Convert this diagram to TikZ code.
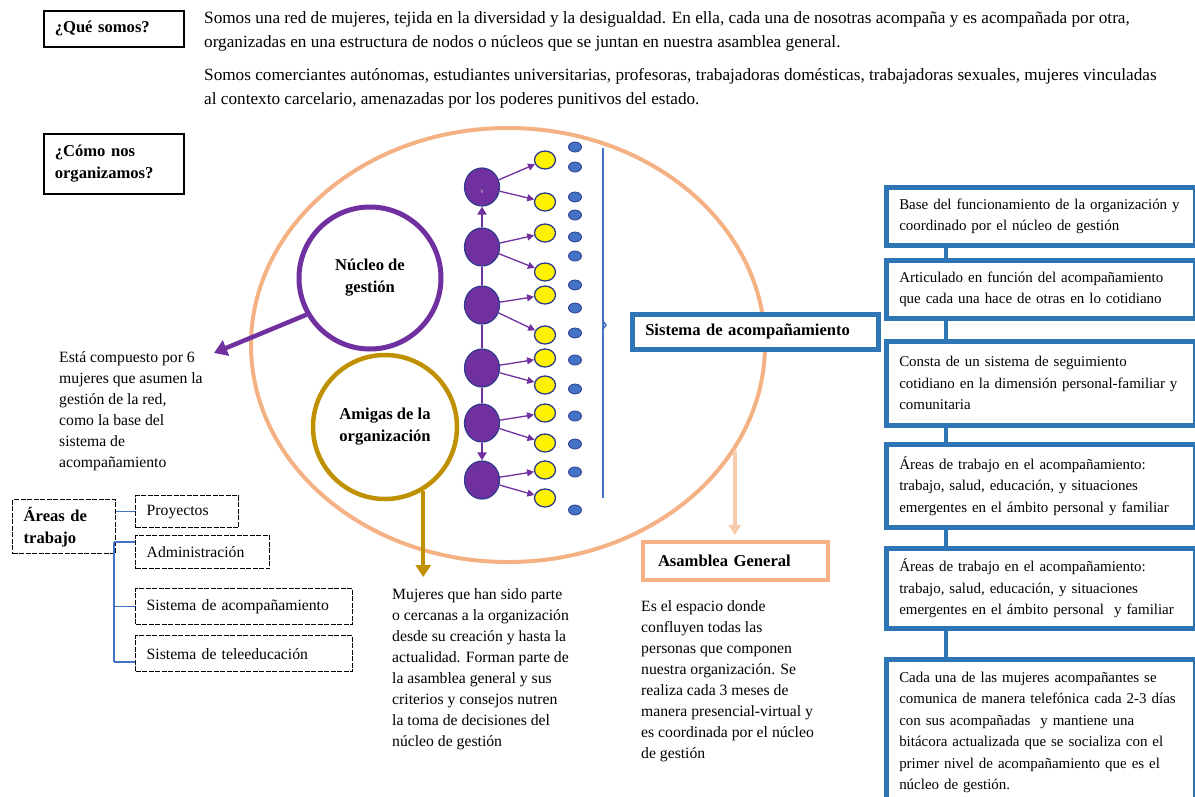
\documentclass[tikz,border=0pt]{standalone}
\usepackage{fontspec}
\setmainfont{Liberation Serif}
\usetikzlibrary{arrows.meta,shapes.geometric,calc}
\definecolor{peach}{HTML}{F4B183}
\definecolor{peachlt}{HTML}{F8CBAD}
\definecolor{purp}{HTML}{7030A0}
\definecolor{goldc}{HTML}{BF9000}
\definecolor{boxblue}{HTML}{2E75B6}
\definecolor{lineblue}{HTML}{4472C4}
\definecolor{rimblue}{HTML}{2F3C8C}
\definecolor{dotblue}{HTML}{4472C4}
\newcommand\txtTop{\fontsize{17.2}{24.5}\selectfont}
\newcommand\txtBody{\fontsize{15.7}{21.1}\selectfont}
\newcommand\txtBox{\fontsize{14.95}{21.5}\selectfont}
\newcommand\txtBold{\fontsize{16.6}{22}\selectfont\bfseries}
\tikzset{
  freetext/.style={anchor=north west, inner sep=0pt, align=left, font=\txtBody},
  headbox/.style={draw=black, line width=1.6pt, anchor=north west, inner xsep=11pt, inner ysep=0pt, text width=118pt, align=left, font=\txtBold},
  dashbox/.style={draw=black, line width=1.4pt, dash pattern=on 5pt off 1.5pt, anchor=north west, inner xsep=11pt, inner ysep=0pt, align=left, font=\txtBody},
  rbox/.style={draw=boxblue, line width=4.5pt, fill=white, anchor=north west, inner xsep=13pt, inner ysep=0pt, text width=283pt, align=left, font=\txtBox},
  pcirc/.style={ellipse, fill=purp, draw=rimblue, line width=1.2pt, minimum width=35pt, minimum height=38pt, inner sep=0pt},
  ycirc/.style={ellipse, fill=yellow, draw=rimblue, line width=1.3pt, minimum width=21pt, minimum height=18pt, inner sep=0pt},
  bdot/.style={ellipse, fill=dotblue, draw=rimblue, line width=0.8pt, minimum width=13pt, minimum height=10pt, inner sep=0pt},
  parrow/.style={draw=purp, line width=1.3pt, -{Triangle[length=7pt,width=7pt]}},
  chain/.style={draw=purp, line width=2.4pt},
  bus/.style={draw=lineblue, line width=1.3pt},
  rlink/.style={draw=boxblue, line width=4pt}
}
\begin{document}
\begin{tikzpicture}[x=1pt,y=-1pt]
\useasboundingbox (0,0) rectangle (1195,796);

% top header boxes and text
\node[headbox, minimum height=36pt] (que) at (43,10) {¿Qué somos?};
\node[headbox, minimum height=60pt] (como) at (43,133) {¿Cómo nos\\organizamos?};
\node[freetext, font=\txtTop] (para1) at (204,11) {Somos una red de mujeres, tejida en la diversidad y la desigualdad. En ella, cada una de nosotras acompaña y es acompañada por otra,\\organizadas en una estructura de nodos o núcleos que se juntan en nuestra asamblea general.};
\node[freetext, font=\txtTop] (para2) at (204,68) {Somos comerciantes autónomas, estudiantes universitarias, profesoras, trabajadoras domésticas, trabajadoras sexuales, mujeres vinculadas\\al contexto carcelario, amenazadas por los poderes punitivos del estado.};

% big ellipse
\node[draw=peach, line width=4pt, ellipse, minimum width=514pt, minimum height=434pt, inner sep=0pt] (org) at (508,345) {};

% nucleo and amigas
\node[draw=purp, line width=5pt, circle, minimum size=142pt, inner sep=0pt, align=center, font=\txtBold] (nucleo) at (370,278) {Núcleo de\\gestión};
\node[draw=goldc, line width=4.5pt, circle, minimum size=144pt, inner sep=0pt, align=center, font=\txtBold] (amigas) at (385,427) {Amigas de la\\organización};

\coordinate (nucend) at (214,353);
\draw[purp, line width=4.5pt, -{Triangle[length=13pt,width=16pt]}] (nucleo.210) -- (nucend);
\coordinate (amend) at (422,577);
\draw[goldc, line width=4.5pt, -{Triangle[length=12pt,width=15pt]}] (amigas.-59) -- (amigas.-59 |- amend);

% chain
\foreach \yy [count=\i] in {187,247,305,368,423,480}
  \node[pcirc] (p\i) at (482,\yy) {};
\node[text=purp!25, font=\fontsize{7}{7}\selectfont, inner sep=0pt] (vmark) at (482,192) {v};
\foreach \yy [count=\i] in {160,202,233,272,295,335,358,385,413,443,470,498}
  \node[ycirc] (y\i) at (545,\yy) {};
\foreach \yy [count=\i] in {147,167,197,215,237,256,285,308,333,360,389,416,444,472,510}
  \node[bdot] (b\i) at (575,\yy) {};
\draw[chain, -{Triangle[length=8pt,width=9pt]}] (p2) -- (p1);
\draw[chain] (p2) -- (p3);
\draw[chain] (p3) -- (p4);
\draw[chain] (p4) -- (p5);
\draw[chain, -{Triangle[length=8pt,width=9pt]}] (p5) -- (p6);
\foreach \i in {1,...,6} {
  \pgfmathtruncatemacro\ya{2*\i-1}
  \pgfmathtruncatemacro\yb{2*\i}
  \draw[parrow] (p\i) -- (y\ya);
  \draw[parrow] (p\i) -- (y\yb);
}
% bracket
\coordinate (brtop) at (603,148);
\coordinate (brbot) at (603,498);
\coordinate (brmid) at (603,325);
\draw[lineblue, line width=2.5pt] (brtop) -- (brbot);
\draw[lineblue, line width=1.5pt] ($(brmid)+(0,-4)$) -- ($(brmid)+(3,0)$) -- ($(brmid)+(0,4)$);

% sistema box
\node[draw=boxblue, line width=4.5pt, fill=white, anchor=north west, minimum width=246pt, minimum height=35pt, inner xsep=13pt, inner ysep=0pt, text width=220pt, align=left, font=\txtBold] (sis) at (630,312) {Sistema de acompañamiento};

% asamblea
\node[draw=peach, line width=4pt, fill=white, anchor=north west, minimum height=38pt, inner xsep=15pt, inner ysep=0pt, text width=155pt, align=left, font=\txtBold] (asam) at (641,540) {Asamblea General};
\draw[peachlt, line width=3.5pt, -{Triangle[length=10pt,width=12pt]}, shorten >=5pt] (org.-25) -- (org.-25 |- asam.north);

% free texts
\node[freetext] (estatxt) at (59,351) {Está compuesto por 6\\mujeres que asumen la\\gestión de la red,\\como la base del\\sistema de\\acompañamiento};
\node[freetext] (amigtxt) at (392,588) {Mujeres que han sido parte\\o cercanas a la organización\\desde su creación y hasta la\\actualidad. Forman parte de\\la asamblea general y sus\\criterios y consejos nutren\\la toma de decisiones del\\núcleo de gestión};
\node[freetext] (asamtxt) at (641,600) {Es el espacio donde\\confluyen todas las\\personas que componen\\nuestra organización. Se\\realiza cada 3 meses de\\manera presencial-virtual y\\es coordinada por el núcleo\\de gestión};

% areas de trabajo
\node[dashbox, minimum height=54pt, text width=81pt, font=\txtBold] (areas) at (12,499) {Áreas de\\trabajo};
\node[dashbox, minimum height=32pt, text width=81pt] (proy) at (135,495) {Proyectos};
\node[dashbox, minimum height=33pt, text width=112pt] (admin) at (135,535) {Administración};
\node[dashbox, minimum height=36pt, text width=195pt] (sisac) at (135,588) {Sistema de acompañamiento};
\node[dashbox, minimum height=36pt, text width=195pt] (tele) at (135,635) {Sistema de teleeducación};
\coordinate (bustop) at (114,542);
\coordinate (busbot) at (114,662);
\draw[bus] (areas.east |- proy.west) -- (proy.west);
\draw[bus] (bustop) -- (busbot);
\draw[bus] (bustop) -- (bustop -| admin.west);
\draw[bus] (bustop |- sisac.west) -- (sisac.west);
\draw[bus] (busbot) -- (busbot -| tele.west);

% right column
\node[rbox, minimum height=58pt] (r1) at (884,185) {Base del funcionamiento de la organización y\\coordinado por el núcleo de gestión};
\node[rbox, minimum height=58pt] (r2) at (884,258) {Articulado en función del acompañamiento\\que cada una hace de otras en lo cotidiano};
\node[rbox, minimum height=84pt] (r3) at (884,339) {Consta de un sistema de seguimiento\\cotidiano en la dimensión personal-familiar y\\comunitaria};
\node[rbox, minimum height=83pt] (r4) at (884,442) {Áreas de trabajo en el acompañamiento:\\trabajo, salud, educación, y situaciones\\emergentes en el ámbito personal y familiar};
\node[rbox, minimum height=80pt] (r5) at (884,546) {Áreas de trabajo en el acompañamiento:\\trabajo, salud, educación, y situaciones\\emergentes en el ámbito personal~ y familiar};
\node[rbox, minimum height=146pt] (r6) at (884,657) {Cada una de las mujeres acompañantes se\\comunica de manera telefónica cada 2-3 días\\con sus acompañadas~ y mantiene una\\bitácora actualizada que se socializa con el\\primer nivel de acompañamiento que es el\\núcleo de gestión.};
\foreach \a/\b in {r1/r2,r2/r3,r3/r4,r4/r5,r5/r6}
  \draw[rlink] ($(\a.south west)+(62,0)$) -- ($(\b.north west)+(62,0)$);
\end{tikzpicture}
\end{document}
